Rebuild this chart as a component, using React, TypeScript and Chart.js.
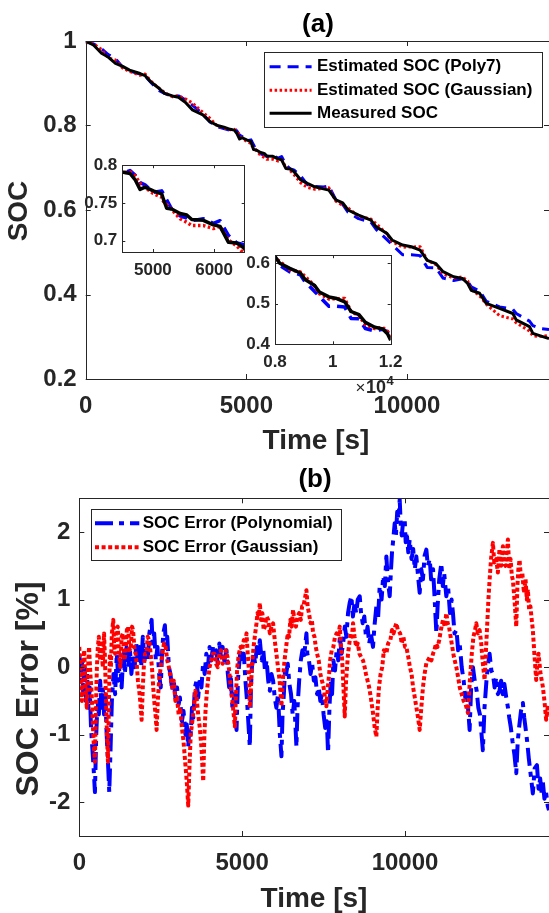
import React, { useEffect, useRef } from "react";
import { Chart, registerables } from "chart.js";
Chart.register(...registerables);

const FONT = "'Liberation Sans', Arial, Helvetica, sans-serif";
const AXC = "#262626";
const X_MAX = 14420;

// ---------- (a) SOC curves ----------
const socTime = [
  0, 250, 492, 700, 927, 1150, 1364, 1690, 1850, 2017,
  2250, 2453, 2700, 2888, 3100, 3323, 3648, 3867, 4100, 4301,
  4500, 4626, 4708, 4790, 4871, 5007, 5144, 5172, 5225, 5307,
  5444, 5553, 5635, 5825, 5988, 6097, 6233, 6370, 6479, 6695,
  6900, 7130, 7400, 7567, 7785, 8000, 8164, 8493, 8877, 9041,
  9370, 9535, 9863, 10137, 10410, 10630, 10903, 11123, 11451, 11725,
  11889, 12000, 12259, 12467, 12881, 13295, 13399, 13813, 13917, 14150,
  14420,
];
const socMeasured = [
  1.0, 0.99, 0.971, 0.962, 0.947, 0.94, 0.931, 0.923, 0.918, 0.904,
  0.89, 0.876, 0.87, 0.867, 0.855, 0.837, 0.825, 0.809, 0.8, 0.796,
  0.791, 0.789, 0.781, 0.768, 0.771, 0.766, 0.762, 0.755, 0.743, 0.742,
  0.736, 0.734, 0.728, 0.727, 0.721, 0.719, 0.698, 0.697, 0.691, 0.671,
  0.663, 0.655, 0.65, 0.647, 0.624, 0.617, 0.6, 0.588, 0.576, 0.56,
  0.545, 0.529, 0.517, 0.513, 0.505, 0.481, 0.473, 0.454, 0.442, 0.438,
  0.426, 0.41, 0.403, 0.379, 0.367, 0.355, 0.34, 0.324, 0.308, 0.302,
  0.296,
];
const socPoly7 = [
  0.998, 0.993, 0.982, 0.968, 0.958, 0.938, 0.929, 0.922, 0.917, 0.903,
  0.884, 0.876, 0.869, 0.87, 0.861, 0.848, 0.827, 0.8085, 0.797, 0.7925,
  0.7885, 0.793, 0.787, 0.777, 0.774, 0.764, 0.766, 0.762, 0.754, 0.742,
  0.733, 0.73, 0.7265, 0.729, 0.723, 0.7265, 0.707, 0.697, 0.695, 0.68,
  0.66, 0.6555, 0.6545, 0.657, 0.624, 0.613, 0.595, 0.5795, 0.5715, 0.554,
  0.5305, 0.518, 0.494, 0.494, 0.492, 0.464, 0.463, 0.439, 0.433, 0.437,
  0.431, 0.418, 0.4085, 0.384, 0.3705, 0.365, 0.355, 0.337, 0.3265, 0.3195,
  0.317,
];
const socGaussian = [
  0.997, 0.993, 0.98, 0.96, 0.955, 0.936, 0.928, 0.919, 0.922, 0.906,
  0.89, 0.878, 0.868, 0.8705, 0.863, 0.853, 0.831, 0.817, 0.7985, 0.7945,
  0.79, 0.791, 0.786, 0.776, 0.7705, 0.7625, 0.7575, 0.752, 0.748, 0.7415,
  0.729, 0.7245, 0.72, 0.72, 0.716, 0.719, 0.701, 0.693, 0.684, 0.664,
  0.6535, 0.649, 0.651, 0.6525, 0.621, 0.611, 0.605, 0.585, 0.5785, 0.5675,
  0.544, 0.525, 0.512, 0.5125, 0.513, 0.481, 0.4705, 0.4485, 0.439, 0.4415,
  0.432, 0.412, 0.397, 0.377, 0.35, 0.342, 0.333, 0.3135, 0.302, 0.301,
  0.303,
];
const socTicksY = [0.2, 0.4, 0.6, 0.8, 1];
const timeTicks = [0, 5000, 10000];
const inset1TicksX = [5000, 6000];
const inset1TicksY = [0.7, 0.75, 0.8];
const inset2TicksX = [8000, 10000, 12000];
const inset2TicksY = [0.4, 0.5, 0.6];

// ---------- (b) SOC error [%] ----------
const errPolyTime = [
  0, 40, 80, 120, 160, 200, 240, 280, 320, 360,
  400, 440, 480, 520, 560, 600, 640, 680, 720, 760,
  800, 840, 880, 920, 960, 1000, 1050, 1100, 1150, 1200,
  1250, 1300, 1350, 1400, 1450, 1500, 1550, 1600, 1650, 1700,
  1750, 1800, 1850, 1900, 1950, 2000, 2050, 2100, 2150, 2220,
  2250, 2300, 2350, 2400, 2450, 2500, 2540, 2580, 2628, 2660,
  2700, 2750, 2800, 2850, 2900, 2950, 3000, 3050, 3088, 3150,
  3200, 3260, 3300, 3344, 3380, 3420, 3460, 3500, 3550, 3600,
  3650, 3700, 3750, 3800, 3850, 3900, 3950, 4000, 4050, 4110,
  4150, 4200, 4250, 4300, 4350, 4400, 4450, 4520, 4560, 4600,
  4650, 4700, 4760, 4827, 4870, 4900, 4950, 5000, 5050, 5100,
  5150, 5200, 5235, 5270, 5300, 5350, 5400, 5450, 5500, 5542,
  5600, 5650, 5700, 5750, 5800, 5850, 5900, 5950, 6000, 6050,
  6100, 6155, 6206, 6240, 6280, 6320, 6350, 6400, 6450, 6500,
  6550, 6600, 6666, 6700, 6750, 6800, 6850, 6900, 6973, 7000,
  7050, 7100, 7150, 7200, 7250, 7300, 7350, 7400, 7450, 7500,
  7550, 7600, 7637, 7680, 7720, 7760, 7800, 7850, 7900, 7950,
  8000, 8050, 8100, 8150, 8200, 8250, 8300, 8353, 8400, 8450,
  8500, 8550, 8609, 8650, 8700, 8750, 8800, 8850, 8900, 8950,
  9017, 9060, 9120, 9170, 9222, 9280, 9330, 9380, 9427, 9470,
  9529, 9570, 9600, 9640, 9683, 9720, 9760, 9800, 9836, 9870,
  9900, 9950, 9990, 10020, 10050, 10100, 10143, 10200, 10250, 10300,
  10347, 10400, 10450, 10500, 10550, 10600, 10655, 10700, 10760, 10800,
  10860, 10900, 10962, 11000, 11050, 11115, 11160, 11200, 11268, 11320,
  11380, 11430, 11472, 11520, 11580, 11630, 11677, 11740, 11800, 11850,
  11900, 11950, 11983, 12030, 12085, 12140, 12200, 12250, 12300, 12350,
  12390, 12440, 12500, 12550, 12596, 12650, 12700, 12750, 12800, 12850,
  12900, 12950, 13000, 13050, 13108, 13160, 13200, 13250, 13300, 13360,
  13415, 13460, 13500, 13560, 13618, 13660, 13700, 13750, 13800, 13860,
  13924, 13980, 14050, 14100, 14150, 14200, 14231, 14280, 14330, 14380,
  14420,
];
const errPoly = [
  0.2, -0.2, 0.1, -0.4, 0.0, -0.5, -0.1, -0.6, -0.3, -0.9,
  -1.2, -1.5, -1.85, -1.0, -0.5, -0.7, -0.2, -0.6, -0.3, -0.7,
  -0.4, -1.0, -1.4, -1.85, -1.2, -0.5, -0.1, -0.4, 0.2, -0.2,
  0.1, -0.3, 0.2, -0.1, 0.3, 0.0, 0.3, -0.1, 0.2, 0.0,
  0.35, 0.05, 0.3, 0.0, 0.45, 0.1, 0.3, 0.1, 0.5, 0.7,
  0.35, 0.5, 0.1, 0.3, -0.1, -0.3, 0.2, 0.5, 0.62, 0.3,
  0.45, 0.0, -0.1, -0.35, -0.2, -0.45, -0.3, -0.55, -0.45, -0.8,
  -0.65, -1.0, -0.85, -1.18, -0.9, -1.0, -0.6, -0.75, -0.3, -0.2,
  -0.45, -0.15, -0.3, 0.05, -0.1, 0.2, 0.0, 0.3, 0.1, 0.32,
  0.15, 0.25, 0.05, 0.35, 0.15, 0.3, 0.1, 0.25, -0.1, -0.3,
  -0.1, -0.6, -0.4, -0.93, -0.2, 0.0, 0.25, 0.05, 0.2, -0.2,
  -0.5, -0.9, -1.18, -0.3, 0.0, 0.2, 0.05, 0.3, 0.15, 0.4,
  0.1, 0.25, -0.05, 0.1, -0.2, -0.35, -0.1, -0.2, -0.45, -0.6,
  -0.4, -0.98, -1.32, -0.7, -0.4, 0.0, -0.1, 0.05, -0.25, -0.4,
  -0.7, -0.5, -1.18, -0.6, -0.2, 0.1, 0.25, 0.15, 0.5, 0.2,
  0.1, -0.1, 0.05, -0.2, -0.15, -0.4, -0.3, -0.5, -0.4, -0.7,
  -0.9, -0.8, -1.27, -0.6, -0.2, -0.4, 0.1, -0.05, 0.25, 0.1,
  0.45, 0.2, 0.35, 0.6, 0.45, 0.8, 0.95, 1.05, 0.75, 0.95,
  0.8, 1.0, 1.05, 0.8, 0.65, 0.75, 0.45, 0.6, 0.35, 0.5,
  0.3, 0.6, 0.9, 0.7, 1.2, 1.0, 1.35, 1.2, 1.64, 1.3,
  1.05, 1.45, 1.7, 1.9, 2.13, 1.95, 2.3, 2.2, 2.48, 2.1,
  1.95, 2.2, 2.18, 1.85, 2.0, 1.7, 1.89, 1.6, 1.75, 1.45,
  1.64, 1.35, 1.1, 1.45, 1.3, 1.65, 1.74, 1.5, 1.6, 1.3,
  1.45, 1.1, 0.5, 0.9, 1.3, 1.54, 1.2, 1.4, 1.05, 1.2,
  0.8, 1.0, 0.8, 0.5, 0.55, 0.25, 0.35, 0.0, -0.2, -0.45,
  -0.4, -0.7, -0.93, -0.3, 0.0, -0.2, -0.35, -0.6, -0.7, -1.0,
  -1.23, -0.6, -0.2, 0.05, 0.2, -0.05, -0.1, -0.3, -0.15, -0.4,
  -0.35, -0.2, -0.4, -0.25, -0.45, -0.6, -0.75, -0.9, -1.1, -1.3,
  -1.57, -1.1, -0.9, -0.65, -0.53, -0.75, -0.9, -1.1, -1.35, -1.6,
  -1.87, -1.5, -1.45, -1.8, -1.65, -1.9, -1.7, -1.95, -1.85, -2.05,
  -2.12,
];
const errGaussTime = [
  0, 40, 80, 120, 150, 190, 230, 270, 300, 340,
  380, 420, 450, 480, 510, 540, 570, 600, 640, 680,
  720, 760, 790, 820, 850, 880, 910, 940, 970, 1000,
  1043, 1070, 1100, 1140, 1180, 1220, 1260, 1300, 1340, 1380,
  1420, 1460, 1500, 1540, 1580, 1620, 1650, 1690, 1730, 1770,
  1800, 1840, 1870, 1913, 1950, 1980, 2020, 2060, 2100, 2150,
  2190, 2230, 2270, 2300, 2340, 2373, 2410, 2450, 2500, 2550,
  2600, 2650, 2700, 2750, 2800, 2850, 2900, 2950, 3000, 3050,
  3100, 3150, 3200, 3250, 3300, 3344, 3380, 3420, 3470, 3520,
  3560, 3600, 3650, 3700, 3750, 3804, 3840, 3880, 3920, 3950,
  4000, 4050, 4100, 4150, 4200, 4250, 4300, 4350, 4400, 4450,
  4500, 4550, 4600, 4650, 4700, 4740, 4776, 4810, 4850, 4900,
  4950, 5000, 5050, 5100, 5133, 5170, 5200, 5235, 5270, 5300,
  5350, 5400, 5440, 5470, 5510, 5542, 5580, 5620, 5660, 5700,
  5750, 5800, 5850, 5900, 5950, 6000, 6050, 6100, 6150, 6206,
  6250, 6300, 6350, 6400, 6440, 6480, 6520, 6564, 6600, 6650,
  6700, 6750, 6800, 6840, 6880, 6920, 6973, 7010, 7050, 7100,
  7140, 7178, 7220, 7260, 7300, 7350, 7400, 7450, 7500, 7540,
  7586, 7630, 7670, 7700, 7750, 7800, 7850, 7900, 7950, 7996,
  8030, 8070, 8110, 8149, 8190, 8250, 8290, 8330, 8370, 8404,
  8450, 8500, 8550, 8600, 8650, 8711, 8760, 8800, 8850, 8900,
  8950, 9017, 9070, 9120, 9160, 9200, 9250, 9300, 9350, 9427,
  9480, 9550, 9600, 9650, 9700, 9734, 9780, 9850, 9900, 9950,
  10000, 10041, 10100, 10150, 10200, 10245, 10300, 10350, 10400, 10450,
  10500, 10550, 10600, 10655, 10700, 10760, 10810, 10860, 10900, 10950,
  11000, 11050, 11100, 11166, 11220, 11268, 11310, 11350, 11400, 11450,
  11500, 11575, 11630, 11680, 11740, 11800, 11860, 11932, 11990, 12050,
  12100, 12150, 12187, 12240, 12290, 12340, 12380, 12443, 12480, 12520,
  12560, 12596, 12640, 12698, 12740, 12800, 12850, 12900, 12950, 13005,
  13040, 13080, 13120, 13159, 13200, 13240, 13280, 13311, 13360, 13415,
  13450, 13480, 13517, 13560, 13600, 13650, 13700, 13740, 13771, 13810,
  13850, 13890, 13924, 13970, 14027, 14070, 14100, 14160, 14231, 14280,
  14333, 14380, 14420,
];
const errGauss = [
  0.3, -0.2, -0.5, 0.1, 0.25, -0.3, -0.6, 0.0, 0.3, -0.1,
  -0.4, -0.9, -1.2, -1.4, -0.6, 0.0, 0.3, 0.45, 0.1, 0.35,
  0.0, 0.5, 0.1, -0.5, -1.0, -1.4, -0.5, 0.2, 0.0, 0.5,
  0.7, 0.3, 0.2, 0.55, 0.6, 0.2, 0.0, 0.45, 0.5, 0.1,
  0.2, 0.55, 0.6, 0.25, 0.3, 0.6, 0.55, 0.3, 0.2, 0.0,
  -0.2, -0.35, -0.5, -0.78, -0.3, 0.0, 0.2, 0.2, 0.45, 0.4,
  0.2, 0.0, -0.3, -0.5, -0.7, -0.93, -0.5, -0.2, 0.0, 0.2,
  0.35, 0.3, 0.1, 0.0, -0.15, -0.3, -0.2, -0.5, -0.45, -0.7,
  -0.6, -0.9, -1.1, -1.4, -1.7, -2.05, -1.5, -1.0, -0.8, -0.6,
  -0.35, -0.45, -0.7, -0.9, -1.2, -1.69, -1.0, -0.6, -0.35, -0.2,
  0.0, 0.1, 0.2, 0.2, 0.05, 0.0, 0.2, 0.25, 0.05, 0.1,
  0.25, 0.15, -0.05, -0.3, -0.5, -0.7, -0.88, -0.4, 0.0, 0.2,
  0.3, 0.25, 0.4, 0.35, 0.5, 0.2, 0.0, -0.6, -0.3, 0.0,
  0.3, 0.5, 0.65, 0.8, 0.75, 0.95, 0.7, 0.8, 0.55, 0.6,
  0.75, 0.7, 0.5, 0.6, 0.65, 0.4, 0.2, 0.0, -0.2, -0.58,
  -0.2, 0.1, 0.3, 0.5, 0.45, 0.7, 0.6, 0.85, 0.7, 0.6,
  0.75, 0.8, 0.7, 0.9, 0.9, 1.0, 1.14, 0.9, 0.8, 0.65,
  0.7, 0.5, 0.45, 0.3, 0.2, 0.1, -0.1, -0.2, -0.3, -0.45,
  -0.58, -0.3, -0.1, 0.1, 0.25, 0.3, 0.45, 0.5, 0.45, 0.6,
  0.35, 0.1, -0.3, -0.73, -0.2, 0.2, 0.35, 0.5, 0.45, 0.65,
  0.45, 0.3, 0.35, 0.2, 0.15, 0.1, 0.0, -0.1, -0.2, -0.3,
  -0.45, -0.68, -0.9, -1.03, -0.6, -0.3, -0.1, 0.0, 0.25, 0.2,
  0.35, 0.4, 0.55, 0.5, 0.6, 0.65, 0.55, 0.5, 0.35, 0.45,
  0.3, 0.3, 0.15, 0.0, -0.1, -0.29, -0.45, -0.6, -0.75, -0.93,
  -0.6, -0.3, -0.1, 0.06, 0.1, 0.15, 0.1, 0.2, 0.25, 0.35,
  0.3, 0.4, 0.55, 0.7, 0.6, 0.8, 0.65, 0.6, 0.45, 0.3,
  0.15, 0.0, -0.15, -0.3, -0.4, -0.5, -0.55, -0.68, -0.2, 0.2,
  0.45, 0.55, 0.65, 0.5, 0.55, 0.35, 0.1, -0.19, 0.2, 0.6,
  1.0, 1.29, 1.6, 1.84, 1.55, 1.6, 1.4, 1.75, 1.5, 1.79,
  1.55, 1.5, 1.7, 1.89, 1.45, 1.6, 1.35, 1.29, 1.0, 0.6,
  1.2, 1.45, 1.59, 1.3, 1.4, 1.1, 1.3, 1.0, 1.15, 0.85,
  0.9, 0.7, 0.55, 0.2, -0.19, 0.1, 0.2, -0.1, -0.29, -0.5,
  -0.78, -0.6, -0.72,
];
const errTicksY = [-2, -1, 0, 1, 2];

// ---------- helpers ----------
const xy = (xs: number[], ys: number[]) => xs.map((x, i) => ({ x, y: ys[i] }));

const DASH_POLY_A = [11, 7];
const DOT_A = [2.5, 2.5];
const DASH_POLY_B = [18, 6, 5, 6];
const DOT_B = [4, 2.6];

function boxPlugin(id: string, tickLen: number, fillWhite: boolean) {
  return {
    id,
    beforeDatasetsDraw(chart: any) {
      if (!fillWhite) return;
      const a = chart.chartArea;
      const ctx = chart.ctx;
      ctx.save();
      ctx.fillStyle = "#fff";
      ctx.fillRect(a.left, a.top, a.right - a.left, a.bottom - a.top);
      ctx.restore();
    },
    afterDatasetsDraw(chart: any) {
      const a = chart.chartArea;
      const ctx = chart.ctx;
      const xs = chart.scales.x;
      const ys = chart.scales.y;
      ctx.save();
      ctx.strokeStyle = AXC;
      ctx.lineWidth = 1;
      ctx.setLineDash([]);
      ctx.beginPath();
      xs.ticks.forEach((t: any) => {
        const p = Math.round(xs.getPixelForValue(t.value)) + 0.5;
        ctx.moveTo(p, a.bottom);
        ctx.lineTo(p, a.bottom - tickLen);
        ctx.moveTo(p, a.top);
        ctx.lineTo(p, a.top + tickLen);
      });
      ys.ticks.forEach((t: any) => {
        const p = Math.round(ys.getPixelForValue(t.value)) + 0.5;
        ctx.moveTo(a.left, p);
        ctx.lineTo(a.left + tickLen, p);
        ctx.moveTo(a.right, p);
        ctx.lineTo(a.right - tickLen, p);
      });
      ctx.stroke();
      ctx.strokeRect(
        Math.round(a.left) + 0.5,
        Math.round(a.top) + 0.5,
        Math.round(a.right - a.left),
        Math.round(a.bottom - a.top)
      );
      ctx.restore();
    },
  };
}

type TextItem = {
  text: string;
  x: number;
  y: number;
  size: number;
  weight?: string;
  color?: string;
  align?: string;
  baseline?: string;
  rot?: number;
};

function textPlugin(id: string, items: TextItem[]) {
  return {
    id,
    afterDraw(chart: any) {
      const ctx = chart.ctx;
      items.forEach((it) => {
        ctx.save();
        ctx.font = `${it.weight || "bold"} ${it.size}px ${FONT}`;
        ctx.fillStyle = it.color || AXC;
        ctx.textAlign = it.align || "center";
        ctx.textBaseline = it.baseline || "middle";
        ctx.translate(it.x, it.y);
        if (it.rot) ctx.rotate(it.rot);
        ctx.fillText(it.text, 0, 0);
        ctx.restore();
      });
    },
  };
}

type LegendRow = { label: string; color: string; dash: number[]; lw: number; y: number };

function legendPlugin(
  id: string,
  box: { x: number; y: number; w: number; h: number },
  rows: LegendRow[],
  x1: number,
  x2: number,
  tx: number,
  size: number
) {
  return {
    id,
    afterDraw(chart: any) {
      const ctx = chart.ctx;
      ctx.save();
      ctx.fillStyle = "#fff";
      ctx.fillRect(box.x, box.y, box.w, box.h);
      ctx.strokeStyle = AXC;
      ctx.lineWidth = 1;
      ctx.strokeRect(Math.round(box.x) + 0.5, Math.round(box.y) + 0.5, Math.round(box.w), Math.round(box.h));
      rows.forEach((r) => {
        ctx.setLineDash(r.dash);
        ctx.lineCap = "butt";
        ctx.strokeStyle = r.color;
        ctx.lineWidth = r.lw;
        ctx.beginPath();
        ctx.moveTo(x1, r.y);
        ctx.lineTo(x2, r.y);
        ctx.stroke();
        ctx.setLineDash([]);
        ctx.font = `bold ${size}px ${FONT}`;
        ctx.fillStyle = "#000";
        ctx.textAlign = "left";
        ctx.textBaseline = "middle";
        ctx.fillText(r.label, tx, r.y);
      });
      ctx.restore();
    },
  };
}

function axis(
  min: number,
  max: number,
  ticks: number[],
  size: number,
  padding: number,
  fit: number,
  horizontal: boolean,
  fmt: (v: number) => string
) {
  return {
    type: "linear",
    min,
    max,
    afterBuildTicks: (s: any) => {
      s.ticks = ticks.map((v) => ({ value: v }));
    },
    afterFit: (s: any) => {
      if (horizontal) s.height = fit;
      else s.width = fit;
    },
    ticks: {
      font: { family: FONT, size, weight: "bold" },
      color: AXC,
      padding,
      autoSkip: false,
      maxRotation: 0,
      minRotation: 0,
      callback: (v: any) => fmt(Number(v)),
    },
    grid: { display: false, drawTicks: false },
    border: { display: false },
  };
}

function baseOptions(padTop: number, padRight: number, scales: any) {
  return {
    animation: false,
    responsive: false,
    devicePixelRatio: 1,
    events: [],
    layout: { padding: { top: padTop, right: padRight, left: 0, bottom: 0 } },
    elements: {
      point: { radius: 0 },
      line: { tension: 0, borderCapStyle: "butt", borderJoinStyle: "round", fill: false },
    },
    plugins: { legend: { display: false }, tooltip: { enabled: false }, title: { display: false } },
    scales,
  };
}

function socDatasets(lw: number) {
  return [
    { label: "Measured SOC", data: xy(socTime, socMeasured), borderColor: "#000000", borderWidth: lw, order: 0 },
    {
      label: "Estimated SOC (Gaussian)",
      data: xy(socTime, socGaussian),
      borderColor: "#ff0000",
      borderWidth: lw,
      borderDash: DOT_A,
      order: 1,
    },
    {
      label: "Estimated SOC (Poly7)",
      data: xy(socTime, socPoly7),
      borderColor: "#0000ff",
      borderWidth: lw,
      borderDash: DASH_POLY_A,
      order: 2,
    },
  ];
}

const str = (v: number) => String(v);

function makeTop(): any {
  return {
    type: "line",
    data: { datasets: socDatasets(3) },
    options: baseOptions(41, 0, {
      x: axis(0, X_MAX, timeTicks, 24, 13, 81, true, str),
      y: axis(0.2, 1, socTicksY, 24, 9, 85.7, false, str),
    }),
    plugins: [
      boxPlugin("boxA", 5, false),
      legendPlugin(
        "legA",
        { x: 263.7, y: 51.7, w: 278, h: 75 },
        [
          { label: "Estimated SOC (Poly7)", color: "#0000ff", dash: DASH_POLY_A, lw: 3, y: 66.7 },
          { label: "Estimated SOC (Gaussian)", color: "#ff0000", dash: DOT_A, lw: 3, y: 90.2 },
          { label: "Measured SOC", color: "#000000", dash: [], lw: 3, y: 113.3 },
        ],
        269.6,
        311.6,
        317,
        17
      ),
      textPlugin("txtA", [
        { text: "(a)", x: 318, y: 25, size: 26, color: "#000" },
        { text: "SOC", x: 19.5, y: 211, size: 28, rot: -Math.PI / 2 },
        { text: "Time [s]", x: 316, y: 441, size: 28 },
      ]),
    ],
  };
}

function makeInset1(): any {
  return {
    type: "line",
    data: { datasets: socDatasets(3.5) },
    options: baseOptions(11.7, 15.3, {
      x: axis(4500, 6500, inset1TicksX, 17, 8, 38, true, str),
      y: axis(0.685, 0.8, inset1TicksY, 17, 5, 42.3, false, str),
    }),
    plugins: [boxPlugin("boxI1", 3, true)],
  };
}

function makeInset2(): any {
  return {
    type: "line",
    data: { datasets: socDatasets(3.5) },
    options: baseOptions(12.7, 13.3, {
      x: axis(8000, 12000, inset2TicksX, 17, 7.5, 55.7, true, (v) => String(v / 10000)),
      y: axis(0.4, 0.62, inset2TicksY, 17, 5, 45, false, str),
    }),
    plugins: [
      boxPlugin("boxI2", 3, true),
      textPlugin("txtI2", [
        { text: "×", x: 125.5, y: 153.3, size: 17, weight: "normal", align: "left", baseline: "alphabetic" },
        { text: "10", x: 135.9, y: 153.3, size: 18, align: "left", baseline: "alphabetic" },
        { text: "4", x: 156.4, y: 145, size: 13, align: "left", baseline: "alphabetic" },
      ]),
    ],
  };
}

function makeBottom(): any {
  return {
    type: "line",
    data: {
      datasets: [
        {
          label: "SOC Error (Gaussian)",
          data: xy(errGaussTime, errGauss),
          borderColor: "#ff0000",
          borderWidth: 4,
          borderDash: DOT_B,
          order: 0,
        },
        {
          label: "SOC Error (Polynomial)",
          data: xy(errPolyTime, errPoly),
          borderColor: "#0000ff",
          borderWidth: 4,
          borderDash: DASH_POLY_B,
          order: 1,
        },
      ],
    },
    options: baseOptions(38.3, 0, {
      x: axis(0, X_MAX, timeTicks, 24, 13, 77, true, str),
      y: axis(-2.5, 2.5, errTicksY, 24, 9, 79.3, false, str),
    }),
    plugins: [
      boxPlugin("boxB", 5, false),
      legendPlugin(
        "legB",
        { x: 90.7, y: 49.3, w: 250.3, h: 50.7 },
        [
          { label: "SOC Error (Polynomial)", color: "#0000ff", dash: DASH_POLY_B, lw: 4, y: 63.3 },
          { label: "SOC Error (Gaussian)", color: "#ff0000", dash: DOT_B, lw: 4, y: 87.3 },
        ],
        95,
        139.3,
        142.7,
        17
      ),
      textPlugin("txtB", [
        { text: "(b)", x: 315, y: 20, size: 26, color: "#000" },
        { text: "SOC Error [%]", x: 29, y: 229, size: 32, rot: -Math.PI / 2 },
        { text: "Time [s]", x: 314, y: 439, size: 28 },
      ]),
    ],
  };
}

function ChartCanvas(props: { left: number; top: number; width: number; height: number; make: () => any }) {
  const ref = useRef<HTMLCanvasElement | null>(null);
  useEffect(() => {
    if (!ref.current) return;
    const chart = new Chart(ref.current, props.make());
    return () => chart.destroy();
  }, []);
  return (
    <canvas
      ref={ref}
      width={props.width}
      height={props.height}
      style={{ position: "absolute", left: props.left, top: props.top, width: props.width, height: props.height }}
    />
  );
}

export default function App() {
  return (
    <div style={{ position: "absolute", left: 0, top: 0, width: 549, height: 913, background: "#fff", overflow: "hidden" }}>
      <ChartCanvas left={0} top={0} width={549} height={460} make={makeTop} />
      <ChartCanvas left={0} top={460} width={549} height={453} make={makeBottom} />
      <ChartCanvas left={80} top={150} width={180} height={140} make={makeInset1} />
      <ChartCanvas left={230} top={240} width={180} height={160} make={makeInset2} />
    </div>
  );
}
